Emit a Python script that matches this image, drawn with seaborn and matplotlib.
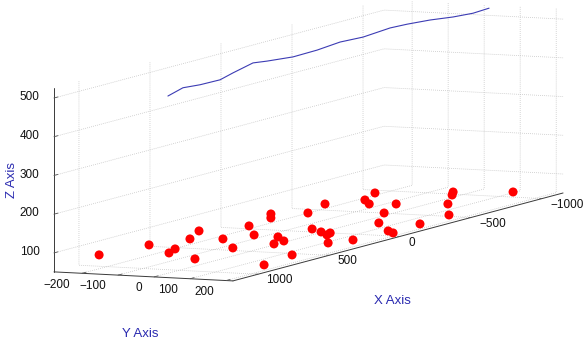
import matplotlib
matplotlib.use("Agg")
import matplotlib.pyplot as plt
import seaborn as sns

# red markers
dot_x = [1170, 892, 1048, 952, 713, 525, 1152, 676, 865, 358,
         553, 67, 156, 820, 730, 570, 653, 567, 4, 355,
         -215, 411, 471, 423, 260, 166, -349, -265, -516, -26,
         -295, -81, -74, -35, -265, -525, -497, -557, -625, -1080]
dot_y = [-155, -126, -9, -30, -83, -132, 104, -6, 96, -59,
         32, -113, -78, 165, 157, 105, 154, 143, -35, 115,
         -74, 162, 202, 192, 122, 154, -16, 29, -54, 150,
         92, 143, 157, 186, 170, 145, 159, 144, 120, 107]
dot_z = [100, 100, 100, 100, 100, 100, 100, 100, 100, 100,
         100, 100, 100, 55, 100, 100, 100, 55, 100, 100,
         100, 100, 100, 100, 55, 55, 100, 100, 100, 80,
         100, 100, 55, 55, 55, 80, 55, 100, 100, 55]

# blue curve near the top of the box
line_x = [1142, 1036, 916, 775, 684, 543, 444, 261, 92, -70,
          -232, -422, -542, -704, -866, -1006, -1119]
line_y = [25, 25, 25, 25, 25, 25, 25, 25, 25, 25,
          25, 25, 25, 25, 25, 25, 25]
line_z = [516, 527, 523, 522, 531, 543, 538, 531, 532, 537,
          534, 539, 537, 532, 524, 520, 522]

x_ticks = [-1000, -500, 0, 500, 1000]
y_ticks = [-200, -100, 0, 100, 200]
z_ticks = [100, 200, 300, 400, 500]

sns.set_theme(style="white", rc={"grid.linestyle": ":",
                                 "grid.color": "#bcbcbc",
                                 "grid.linewidth": 0.55})
plt.rcParams["font.family"] = ["Liberation Sans", "DejaVu Sans"]

fig = plt.figure(figsize=(5.88, 3.47), dpi=100)
ax = fig.add_axes([-0.2133, -0.6553, 1.4371, 2.4352],
                  projection="3d", proj_type="ortho")
ax.set_box_aspect((827, 195, 185))
ax.view_init(elev=6.65, azim=23.5)

#data
ax.scatter(dot_x, dot_y, dot_z, c="red", s=42, depthshade=False,
           edgecolors="none")
ax.plot(line_x, line_y, line_z, color="#3c3cb4", lw=0.8)

ax.set_xlim(-1148, 1176)
ax.set_ylim(-278, 219)
ax.set_zlim(51, 526)
ax.set_xticks(x_ticks)
ax.set_yticks(y_ticks)
ax.set_zticks(z_ticks)
ax.grid(True)

for axis in (ax.xaxis, ax.yaxis, ax.zaxis):
    axis.set_pane_color((1, 1, 1, 0))
    axis.pane.set_edgecolor((1, 1, 1, 0))
    axis.line.set_color("#3a3a3a")
    axis.line.set_linewidth(0.7)
    axis._axinfo["grid"].update(color="#bcbcbc", linestyle=":", linewidth=0.55)
    axis._axinfo["tick"]["inward_factor"] = 0.0
    axis._axinfo["tick"]["outward_factor"] = 0.15
    axis._axinfo["tick"]["linewidth"] = {True: 0.6, False: 0.4}

ax.tick_params(labelsize=8.5, color="#555555", labelcolor="#111111")
ax.tick_params(axis="x", pad=7)
ax.tick_params(axis="y", pad=3.5)
ax.tick_params(axis="z", pad=1)
for lab in ax.get_xticklabels():
    lab.set_ha("left")
    lab.set_va("baseline")
for lab in ax.get_yticklabels():
    lab.set_ha("right")
    lab.set_va("center_baseline")
for lab in ax.get_zticklabels():
    lab.set_ha("right")
    lab.set_va("baseline")

# axis titles
lab_color = "#2a2ab0"
fig.text(392/588, 1-301/347, "X Axis", ha="center", va="center",
         color=lab_color, fontsize=9.5)
fig.text(140/588, 1-334/347, "Y Axis", ha="center", va="center",
         color=lab_color, fontsize=9.5)
fig.text(12/588, 1-180/347, "Z Axis", ha="center", va="center",
         color=lab_color, fontsize=9.5, rotation=90)

fig.savefig("out.png", dpi=100)
